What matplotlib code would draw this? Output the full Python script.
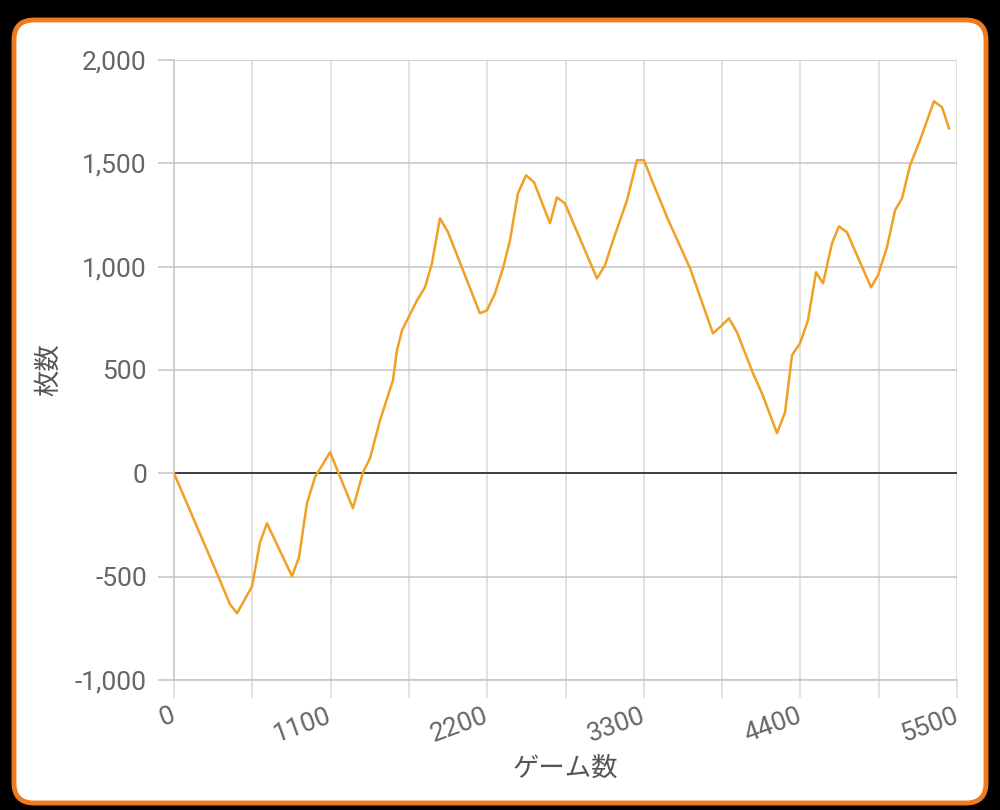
import matplotlib.pyplot as plt
from matplotlib.patches import FancyBboxPatch
from matplotlib.transforms import IdentityTransform
from matplotlib.ticker import FuncFormatter

# game count / coin balance
games = [0, 323, 393, 443, 548, 604, 653, 829, 878, 934, 990, 1096, 1257, 1328,
         1377, 1447, 1538, 1566, 1602, 1644, 1707, 1763, 1812, 1868, 1925, 2149,
         2199, 2255, 2311, 2360, 2416, 2473, 2529, 2641, 2690, 2746, 2971, 3027,
         3084, 3182, 3252, 3301, 3365, 3435, 3463, 3625, 3786, 3849, 3898, 3955,
         4067, 4130, 4236, 4292, 4341, 4397, 4453, 4510, 4559, 4622, 4671, 4727,
         4896, 4945, 5008, 5065, 5114, 5170, 5240, 5338, 5395, 5444]
coins = [0, -518, -634, -677, -547, -334, -242, -498, -406, -145, -19, 102, -169, 5,
         73, 256, 450, 595, 692, 750, 837, 900, 1016, 1234, 1166, 774,
         789, 871, 992, 1127, 1355, 1442, 1408, 1210, 1335, 1306, 943, 1006,
         1127, 1321, 1515, 1515, 1403, 1287, 1239, 992, 677, 716, 750, 682,
         484, 387, 194, 295, 571, 629, 740, 973, 919, 1113, 1195, 1166,
         900, 958, 1094, 1273, 1331, 1490, 1611, 1800, 1771, 1669]

x_ticks = list(range(0, 5501, 550))
x_labels = ["0", "", "1100", "", "2200", "", "3300", "", "4400", "", "5500"]
y_ticks = list(range(-1000, 2001, 500))

plt.rcParams["font.family"] = ["Roboto", "Noto Sans CJK JP", "DejaVu Sans"]

fig = plt.figure(figsize=(10, 8.1), dpi=100, facecolor="black")

# white card with orange rounded border, drawn behind the axes
card = FancyBboxPatch((14, 7), 972, 783, boxstyle="round,pad=0,rounding_size=20",
                      transform=IdentityTransform(), facecolor="white",
                      edgecolor="#F07A1E", linewidth=3.5, zorder=-10)
fig.add_artist(card)

ax = fig.add_axes([0.174, 0.1605, 0.783, 0.7655])
ax.set_zorder(1)
ax.set_facecolor("white")

ax.plot(games, coins, color="#F2A024", linewidth=1.8, zorder=3)
ax.axhline(0, color="#333333", linewidth=1.3, zorder=2)

ax.set_xlim(0, 5500)
ax.set_ylim(-1000, 2000)
ax.set_xticks(x_ticks)
ax.set_xticklabels(x_labels, rotation=20, ha="right", va="center",
                   rotation_mode="anchor")
ax.set_yticks(y_ticks)
ax.yaxis.set_major_formatter(FuncFormatter(lambda v, p: f"{int(v):,}"))

ax.grid(True, axis="y", color="#C8C8C8", linewidth=1.2)
ax.grid(True, axis="x", color="#DDDDDD", linewidth=1.2)
ax.set_axisbelow(True)

ax.tick_params(axis="y", length=11.5, width=1.2, color="#C8C8C8",
               labelcolor="#666666", labelsize=19, pad=8)
ax.tick_params(axis="x", length=13, width=1.2, color="#DDDDDD",
               labelcolor="#666666", labelsize=19, pad=12)

for side in ["top", "right"]:
    ax.spines[side].set_visible(False)
ax.spines["left"].set_color("#C8C8C8")
ax.spines["bottom"].set_color("#C8C8C8")
ax.spines["left"].set_linewidth(1.2)
ax.spines["bottom"].set_linewidth(1.2)

ax.set_xlabel("ゲーム数", fontsize=19, color="#555555",
              family=["Noto Sans CJK JP", "DejaVu Sans"], labelpad=6)
ax.set_ylabel("枚数", fontsize=19, color="#555555",
              family=["Noto Sans CJK JP", "DejaVu Sans"], labelpad=9)

fig.savefig("out.png", dpi=100, facecolor="black")
